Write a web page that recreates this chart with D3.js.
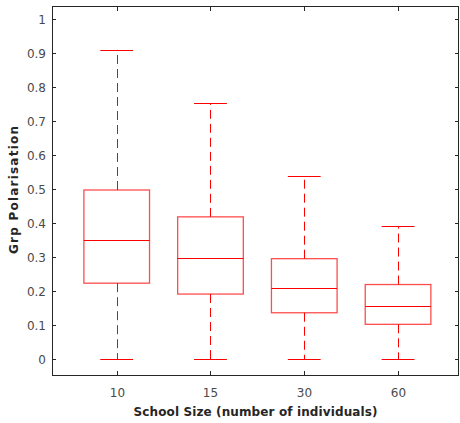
<!DOCTYPE html>
<html>
<head>
    <meta charset="utf-8">
    <script src="https://cdnjs.cloudflare.com/ajax/libs/d3/7.8.5/d3.min.js"></script>
    <style>
        body { margin: 0; background: #fff; }
        text { font-family: "DejaVu Sans", sans-serif; }
    </style>
</head>
<body>
<div id="chart"></div>
<script>
    // box stats per school size
    const categories = ["10", "15", "30", "60"];
    const whiskerLow = [0, 0, 0, 0];
    const q1 = [0.223, 0.191, 0.136, 0.102];
    const median = [0.35, 0.297, 0.21, 0.156];
    const q3 = [0.497, 0.418, 0.295, 0.219];
    const whiskerHigh = [0.909, 0.753, 0.538, 0.39];
    const yTicks = [0, 0.1, 0.2, 0.3, 0.4, 0.5, 0.6, 0.7, 0.8, 0.9, 1];

    const W = 460, H = 423;
    const plotL = 52, plotR = 459, plotT = 6, plotB = 375;

    const svg = d3.select("#chart").append("svg")
        .attr("width", W).attr("height", H);

    const x = d3.scaleLinear().domain([0.31, 4.65]).range([plotL, plotR]);
    const y = d3.scaleLinear().domain([-0.047, 1.038]).range([plotB, plotT]);

    const axisCol = "#262626";
    const labCol = "#4a4a4a";

    // frame
    svg.append("rect")
        .attr("x", plotL + 0.5).attr("y", plotT + 0.5)
        .attr("width", plotR - plotL - 1).attr("height", plotB - plotT)
        .attr("fill", "none").attr("stroke", axisCol).attr("stroke-width", 1);

    // y ticks, left and right, pointing inward
    yTicks.forEach(t => {
        const yy = Math.round(y(t)) + 0.5;
        svg.append("line").attr("x1", plotL).attr("x2", plotL + 4)
            .attr("y1", yy).attr("y2", yy).attr("stroke", axisCol);
        svg.append("line").attr("x1", plotR - 4).attr("x2", plotR)
            .attr("y1", yy).attr("y2", yy).attr("stroke", axisCol);
        svg.append("text")
            .attr("x", plotL - 6).attr("y", yy + 4.5)
            .attr("text-anchor", "end")
            .attr("font-size", 12).attr("fill", labCol)
            .text(t === 0 || t === 1 ? String(t) : t.toFixed(1));
    });

    // x ticks, bottom and top
    categories.forEach((c, i) => {
        const xx = Math.round(x(i + 1)) + 0.5;
        svg.append("line").attr("x1", xx).attr("x2", xx)
            .attr("y1", plotB - 4).attr("y2", plotB).attr("stroke", axisCol);
        svg.append("line").attr("x1", xx).attr("x2", xx)
            .attr("y1", plotT + 1).attr("y2", plotT + 5).attr("stroke", axisCol);
        svg.append("text")
            .attr("x", xx).attr("y", plotB + 22)
            .attr("text-anchor", "middle")
            .attr("font-size", 12).attr("fill", labCol)
            .text(c);
    });

    // boxes
    const boxW = 0.7, capW = 0.35;
    const g = svg.append("g");
    categories.forEach((c, i) => {
        const p = i + 1;
        const cx = Math.round(x(p)) + 0.5;
        // whiskers
        g.append("line").attr("x1", cx).attr("x2", cx)
            .attr("y1", y(q3[i])).attr("y2", y(whiskerHigh[i]))
            .attr("stroke", "#ff0000").attr("stroke-dasharray", "9,5");
        g.append("line").attr("x1", cx).attr("x2", cx)
            .attr("y1", y(q1[i])).attr("y2", y(whiskerLow[i]))
            .attr("stroke", "#ff0000").attr("stroke-dasharray", "9,5");
        // caps
        [whiskerHigh[i], whiskerLow[i]].forEach(v => {
            g.append("line")
                .attr("x1", x(p - capW / 2)).attr("x2", x(p + capW / 2))
                .attr("y1", Math.round(y(v)) + 0.5).attr("y2", Math.round(y(v)) + 0.5)
                .attr("stroke", "#ff0000");
        });
        // box
        g.append("rect")
            .attr("x", x(p - boxW / 2)).attr("width", x(p + boxW / 2) - x(p - boxW / 2))
            .attr("y", y(q3[i])).attr("height", y(q1[i]) - y(q3[i]))
            .attr("fill", "none").attr("stroke", "#ff0000")
            .attr("stroke-opacity", 0.7).attr("stroke-width", 1.3);
        // median
        g.append("line")
            .attr("x1", x(p - boxW / 2)).attr("x2", x(p + boxW / 2))
            .attr("y1", Math.round(y(median[i])) + 0.5).attr("y2", Math.round(y(median[i])) + 0.5)
            .attr("stroke", "#ff0000");
    });

    // axis labels
    svg.append("text")
        .attr("x", (plotL + plotR) / 2).attr("y", 416)
        .attr("text-anchor", "middle")
        .attr("font-size", 12).attr("font-weight", "bold").attr("fill", "#262626")
        .attr("textLength", 244).attr("lengthAdjust", "spacing")
        .text("School Size (number of individuals)");

    svg.append("text")
        .attr("transform", "translate(18," + 190 + ") rotate(-90)")
        .attr("text-anchor", "middle")
        .attr("font-size", 12).attr("font-weight", "bold").attr("fill", "#262626")
        .attr("textLength", 128).attr("lengthAdjust", "spacing")
        .text("Grp Polarisation");
</script>
</body>
</html>
